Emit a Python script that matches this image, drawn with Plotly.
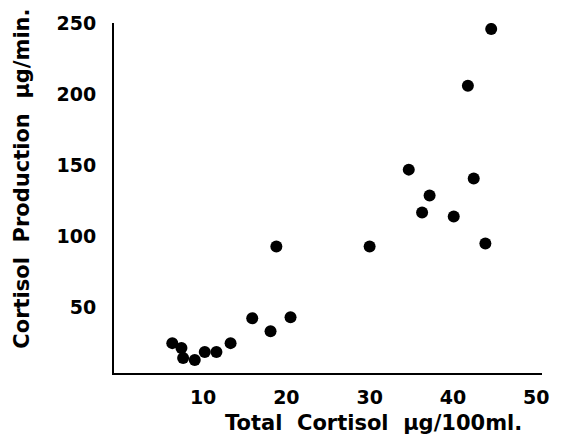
import plotly.graph_objects as go

# Data
total_cortisol = [6.3, 7.4, 7.6, 9.0, 10.2, 11.6, 13.3, 15.9, 18.1, 20.5,
                  18.8, 30.0, 36.3, 40.1, 43.9, 34.7, 42.5, 37.2, 41.8, 44.6]
cortisol_production = [24.9, 21.4, 14.4, 13.0, 18.6, 18.6, 24.9, 42.4, 33.3, 43.1,
                       92.9, 92.9, 116.8, 114.0, 95.0, 146.9, 140.6, 128.7, 205.8, 245.8]

x_ticks = [10, 20, 30, 40, 50]
y_ticks = [50, 100, 150, 200, 250]
x_title = "Total  Cortisol  µg/100ml."
y_title = "Cortisol  Production  µg/min."

FONT = "DejaVu Sans"

fig = go.Figure()
fig.add_trace(go.Scatter(
    x=total_cortisol, y=cortisol_production, mode="markers",
    marker=dict(color="black", size=12, line=dict(width=0)),
    showlegend=False, hoverinfo="skip",
))

fig.update_layout(
    width=561, height=445,
    margin=dict(l=114, r=14, t=22, b=72),
    paper_bgcolor="white", plot_bgcolor="white",
    font=dict(family=FONT, size=19, color="black", weight="bold"),
    xaxis=dict(range=[-0.7, 50.7], tickvals=x_ticks, showgrid=False, zeroline=False,
               showline=True, linecolor="black", linewidth=2, ticks="",
               ticklabelstandoff=6,
               tickfont=dict(family=FONT, size=19, color="black", weight="bold")),
    yaxis=dict(range=[3.9, 250], tickvals=y_ticks, showgrid=False, zeroline=False,
               showline=True, linecolor="black", linewidth=2, ticks="",
               ticklabelstandoff=12,
               tickfont=dict(family=FONT, size=19, color="black", weight="bold")),
    annotations=[
        dict(text=x_title, xref="paper", yref="paper", x=(377 - 114) / 433, y=-(423 - 373) / 351,
             showarrow=False, xanchor="center", yanchor="middle",
             font=dict(family=FONT, size=21, color="black", weight="bold")),
        dict(text=y_title, xref="paper", yref="paper", x=-(114 - 20) / 433, y=(373 - 178) / 351,
             showarrow=False, xanchor="center", yanchor="middle", textangle=-90,
             font=dict(family=FONT, size=21, color="black", weight="bold")),
    ],
)

fig.write_html("out.html", config={"displayModeBar": False},
               post_script="document.body.style.margin='0';")
